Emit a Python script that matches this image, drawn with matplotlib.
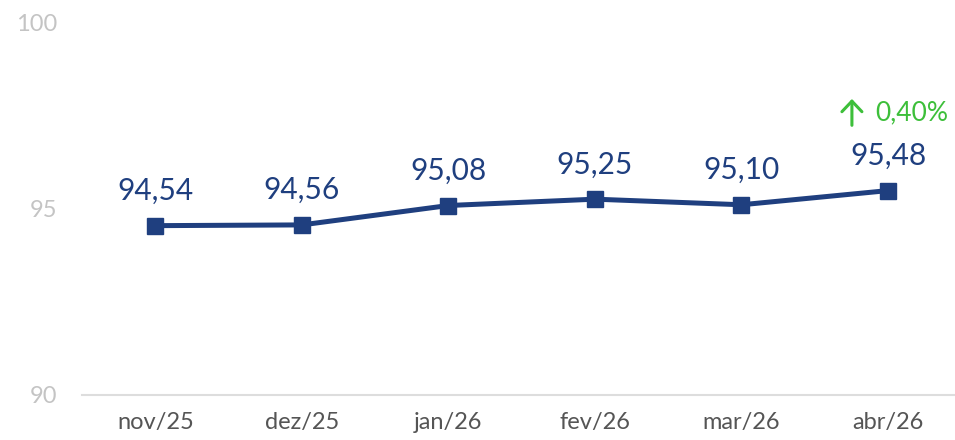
import matplotlib
matplotlib.use("Agg")
from matplotlib import pyplot as plt
from matplotlib.transforms import offset_copy
import numpy as np

months = ['nov/25', 'dez/25', 'jan/26', 'fev/26', 'mar/26', 'abr/26']
values = [94.54, 94.56, 95.08, 95.25, 95.10, 95.48]
value_labels = ['94,54', '94,56', '95,08', '95,25', '95,10', '95,48']
change_label = '0,40%'
y_ticks = [90, 95, 100]

NAVY = '#1f3f7f'
GREEN = '#3dbf3a'
GRAY = '#c4c4c4'

plt.rcParams['font.family'] = ['Lato', 'DejaVu Sans']

fig = plt.figure(figsize=(9.55, 4.4), dpi=100)
ax = fig.add_axes([0.0859, 0.1023, 0.9141, 0.8477])

x = np.arange(len(months))
ax.plot(x, values, color=NAVY, linewidth=3.6, marker='s', markersize=11.5, zorder=3)

for i, (v, lab) in enumerate(zip(values, value_labels)):
    ax.annotate(lab, (x[i], v), xytext=(0, 25), textcoords='offset points',
                ha='center', va='center', fontsize=21.5, color=NAVY)

# change vs previous month above the last point: arrow + percentage
top = offset_copy(ax.transData, fig=fig, x=-26, y=66, units='points')
bot = offset_copy(ax.transData, fig=fig, x=-26, y=47, units='points')
ax.annotate('', xy=(x[-1], values[-1]), xycoords=top,
            xytext=(x[-1], values[-1]), textcoords=bot,
            arrowprops=dict(arrowstyle='->,head_length=0.38,head_width=0.36',
                            color=GREEN, lw=2.2, mutation_scale=20,
                            shrinkA=0, shrinkB=0))
ax.annotate(change_label, (x[-1], values[-1]), xytext=(-9.5, 56), textcoords='offset points',
            ha='left', va='center', fontsize=19, color=GREEN)

ax.set_xlim(-0.5, 5.457)
ax.set_ylim(90, 100)
ax.set_xticks(x)
ax.set_xticklabels(months)
ax.set_yticks(y_ticks)
ax.tick_params(axis='both', length=0, labelsize=17, colors='#555555')
ax.tick_params(axis='y', colors=GRAY, pad=18)
ax.tick_params(axis='x', pad=12)
for s in ['top', 'right', 'left']:
    ax.spines[s].set_visible(False)
ax.spines['bottom'].set_color('#dddddd')
ax.spines['bottom'].set_linewidth(1.5)

fig.savefig('out.png', dpi=100)
